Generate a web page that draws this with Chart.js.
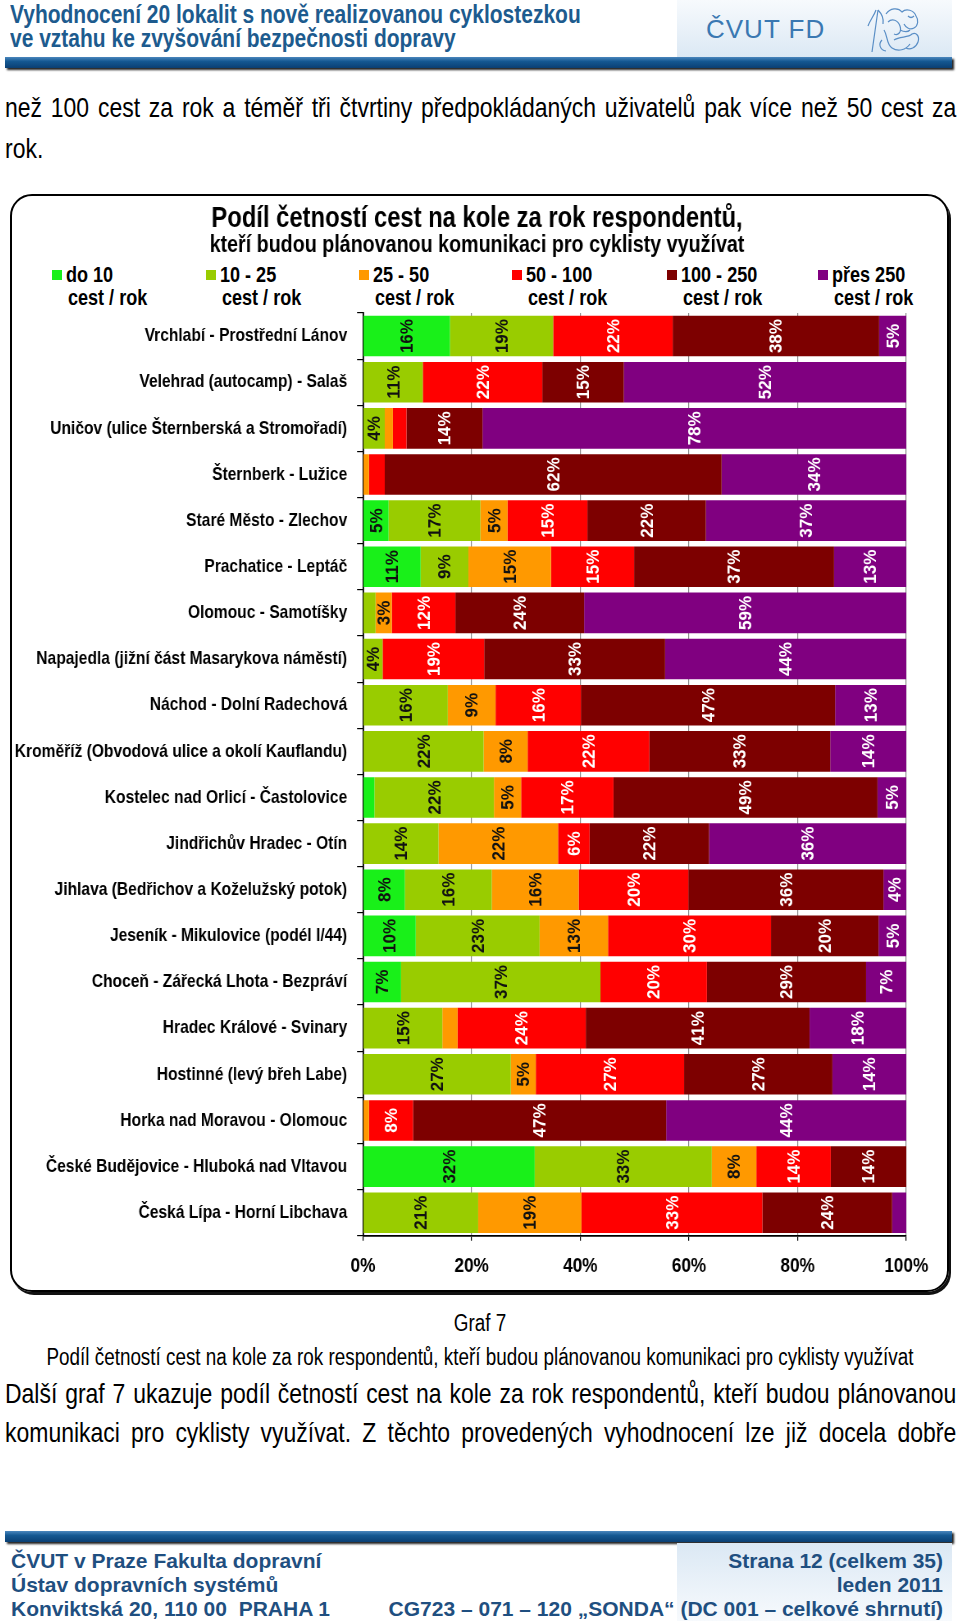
<!DOCTYPE html>
<html lang="cs">
<head>
<meta charset="utf-8">
<title>Graf 7</title>
<script src="https://cdn.jsdelivr.net/npm/chart.js@4.4.0/dist/chart.umd.min.js"></script>
<style>
html,body{margin:0;padding:0;background:#fff;}
body{width:960px;height:1621px;position:relative;overflow:hidden;font-family:"Liberation Sans",Arial,sans-serif;color:#000;}
.abs{position:absolute;}
.sx{transform:scaleX(0.82);transform-origin:0 0;}
.hdr{left:10px;color:#1d5b8e;font-weight:bold;font-size:25.6px;line-height:25px;white-space:nowrap;}
.hbox{left:677px;top:0;width:275px;height:58px;background:linear-gradient(to bottom,#f7fafd,#dbe8f4);}
.hfd{left:706px;top:14px;font-size:26px;letter-spacing:1px;color:#3a78b2;}
.bar{left:5px;width:947px;height:11px;background:linear-gradient(to bottom,#4a86bd 0%,#145892 40%,#0a3f73 100%);box-shadow:2px 2px 2px #222;}
.para{left:5px;width:1160px;font-size:28px;line-height:30px;white-space:nowrap;text-align:justify;text-align-last:justify;}
.cap{left:-120px;width:1200px;text-align:center;font-size:23px;line-height:24px;white-space:nowrap;transform:scaleX(0.82);transform-origin:600px 0;}
.box{left:10px;top:194px;width:935px;height:1094px;border:2px solid #000;border-radius:22px;box-shadow:2px 3px 0 #111;}
.sw{width:10px;height:10px;}
.leg{font-weight:bold;font-size:22px;line-height:23px;white-space:nowrap;}
.fbox{left:677px;top:1543px;width:275px;height:78px;background:linear-gradient(to bottom,#dbe8f4,#f7fafd);}
.ft{font-weight:bold;font-size:21px;line-height:24px;color:#1f4f80;white-space:nowrap;}
#wrap{left:10px;top:194px;width:1145px;height:1098px;}
#logo{left:864px;top:4px;}
</style>
</head>
<body>
<div class="abs hbox"></div>
<div class="abs hdr sx" style="top:2px">Vyhodnocení 20 lokalit s nově realizovanou cyklostezkou</div>
<div class="abs hdr sx" style="top:26px">ve vztahu ke zvyšování bezpečnosti dopravy</div>
<div class="abs hfd">ČVUT FD</div>
<svg id="logo" class="abs" width="60" height="50" viewBox="0 0 60 50" fill="none" stroke="#5b8fc6" stroke-width="1.2">
  <path d="M8 48 L14 6 M12 6 C10 12 6 16 4 22 M14 6 C18 10 20 14 19 20"/>
  <path d="M22 10 C26 4 34 3 38 8 C42 4 50 6 52 12 C55 16 54 22 50 24 C46 26 42 24 40 20"/>
  <path d="M24 18 C28 14 34 16 36 22 C38 28 34 32 30 30 M20 26 C24 32 22 40 28 44 C34 48 42 46 46 40"/>
  <path d="M30 36 C36 32 44 34 48 30 C52 28 56 32 54 38 C52 44 46 46 42 44 M18 36 C14 40 16 46 22 47"/>
  <path d="M44 12 C46 14 48 14 50 12 M36 26 C40 28 44 28 46 26"/>
</svg>
<div class="abs bar" style="top:57px"></div>

<div class="abs para sx" style="top:93px">než 100 cest za rok a téměř tři čtvrtiny předpokládaných uživatelů pak více než 50 cest za</div>
<div class="abs para sx" style="top:134px;text-align-last:left">rok.</div>

<div class="abs box"></div>
<div id="legend"></div>
<div id="wrap" class="abs sx"><canvas id="chart" width="1145" height="1098"></canvas></div>

<div class="abs cap" style="top:1311px">Graf 7</div>
<div class="abs cap" style="top:1345px">Podíl četností cest na kole za rok respondentů, kteří budou plánovanou komunikaci pro cyklisty využívat</div>
<div class="abs para sx" style="top:1379px">Další graf 7 ukazuje podíl četností cest na kole za rok respondentů, kteří budou plánovanou</div>
<div class="abs para sx" style="top:1418px">komunikaci pro cyklisty využívat. Z těchto provedených vyhodnocení lze již docela dobře</div>

<div class="abs bar" style="top:1531px"></div>
<div class="abs fbox"></div>
<div class="abs ft" style="left:11px;top:1549px">ČVUT v Praze Fakulta dopravní</div>
<div class="abs ft" style="left:11px;top:1573px">Ústav dopravních systémů</div>
<div class="abs ft" style="left:11px;top:1597px">Konviktská 20, 110 00&nbsp; PRAHA 1</div>
<div class="abs ft" style="right:17px;top:1549px;text-align:right">Strana 12 (celkem 35)</div>
<div class="abs ft" style="right:17px;top:1573px;text-align:right">leden 2011</div>
<div class="abs ft" style="right:17px;top:1597px;text-align:right">CG723 – 071 – 120 „SONDA“ (DC 001 – celkové shrnutí)</div>

<script>
const FONT = '"Liberation Sans",Arial,sans-serif';

const chartTitle = "Podíl četností cest na kole za rok respondentů,";
const chartSubtitle = "kteří budou plánovanou komunikaci pro cyklisty využívat";

const categories = [
  "Vrchlabí - Prostřední Lánov",
  "Velehrad (autocamp) - Salaš",
  "Uničov (ulice Šternberská a Stromořadí)",
  "Šternberk - Lužice",
  "Staré Město - Zlechov",
  "Prachatice - Leptáč",
  "Olomouc - Samotíšky",
  "Napajedla (jižní část Masarykova náměstí)",
  "Náchod - Dolní Radechová",
  "Kroměříž (Obvodová ulice a okolí Kauflandu)",
  "Kostelec nad Orlicí - Častolovice",
  "Jindřichův Hradec - Otín",
  "Jihlava (Bedřichov a Koželužský potok)",
  "Jeseník - Mikulovice (podél I/44)",
  "Choceň - Zářecká Lhota - Bezpráví",
  "Hradec Králové - Svinary",
  "Hostinné (levý břeh Labe)",
  "Horka nad Moravou - Olomouc",
  "České Budějovice - Hluboká nad Vltavou",
  "Česká Lípa - Horní Libchava"
];

const seriesNames = ["do 10", "10 - 25", "25 - 50", "50 - 100", "100 - 250", "přes 250"];
const seriesUnit = "cest / rok";
const seriesColors = ["#19f019", "#99cc00", "#ff9900", "#ff0000", "#7d0000", "#800080"];
const labelColors = ["#111111", "#111111", "#111111", "#ffffff", "#ffffff", "#ffffff"];

const do10     = [16, 0, 0, 0, 4.7, 10.6, 0, 0, 0, 0, 2.1, 0, 7.7, 9.7, 7, 0, 0, 0, 31.6, 0];
const r10_25   = [19, 11, 4, 0, 16.9, 8.8, 2.3, 3.6, 15.6, 22.2, 22, 13.9, 16, 22.8, 36.7, 14.6, 27.2, 0, 32.6, 21.2];
const r25_50   = [0, 0, 1.5, 1.1, 5, 15.2, 3, 0, 8.8, 8.1, 5, 22, 16, 12.6, 0, 2.8, 4.6, 1.1, 8.2, 19];
const r50_100  = [22, 22, 2.5, 2.9, 14.7, 15.3, 11.7, 18.7, 15.7, 22.4, 17, 5.8, 20.2, 30, 19.6, 23.6, 27.3, 8.1, 13.7, 33.3];
const r100_250 = [38, 15, 14, 62, 21.8, 36.8, 23.7, 33.3, 46.8, 33.3, 48.6, 22, 35.9, 19.8, 29.3, 41.2, 27.3, 46.6, 13.9, 23.9];
const over250  = [5, 52, 78, 34, 36.9, 13.3, 59.3, 44.4, 13.1, 14, 5.3, 36.3, 4.2, 5.1, 7.4, 17.8, 13.6, 44.2, 0, 2.6];

const seriesValues = [do10, r10_25, r25_50, r50_100, r100_250, over250];
const xTicks = [0, 20, 40, 60, 80, 100];
const labelMin = 3;

// HTML legend built from the series names
const legendX = [52, 206, 359, 512, 667, 818];
const legendEl = document.getElementById('legend');
seriesNames.forEach((n, i) => {
  const sw = document.createElement('div');
  sw.className = 'abs sw';
  sw.style.left = legendX[i] + 'px';
  sw.style.top = '270px';
  sw.style.background = seriesColors[i];
  legendEl.appendChild(sw);
  const t1 = document.createElement('div');
  t1.className = 'abs leg sx';
  t1.style.left = (legendX[i] + 14) + 'px';
  t1.style.top = '263px';
  t1.textContent = n;
  legendEl.appendChild(t1);
  const t2 = document.createElement('div');
  t2.className = 'abs leg sx';
  t2.style.left = (legendX[i] + 16) + 'px';
  t2.style.top = '286px';
  t2.textContent = seriesUnit;
  legendEl.appendChild(t2);
});

// center the title and subtitle over the whole framed box
const centerTitles = {
  id: 'centerTitles',
  afterLayout(chart) {
    chart.boxes.forEach(b => {
      if (b.options && (b.options.text === chartTitle || b.options.text === chartSubtitle)) {
        b.left = 0;
        b.right = chart.width - 6;
        b.width = b.right - b.left;
      }
    });
  }
};

const barLabels = {
  id: 'barLabels',
  afterDatasetsDraw(chart) {
    const ctx = chart.ctx;
    chart.data.datasets.forEach((ds, di) => {
      const meta = chart.getDatasetMeta(di);
      meta.data.forEach((bar, i) => {
        const v = ds.data[i];
        if (!(v >= labelMin)) return;
        const p = bar.getProps(['x', 'y', 'base'], true);
        ctx.save();
        ctx.translate((p.x + p.base) / 2, p.y);
        ctx.scale(1.3, 1);
        ctx.rotate(-Math.PI / 2);
        ctx.font = 'bold 17px ' + FONT;
        ctx.fillStyle = labelColors[di];
        ctx.textAlign = 'center';
        ctx.textBaseline = 'middle';
        ctx.fillText(Math.round(v) + '%', 0, 1);
        ctx.restore();
      });
    });
  }
};

new Chart(document.getElementById('chart'), {
  type: 'bar',
  data: {
    labels: categories,
    datasets: seriesNames.map((n, i) => ({
      label: n + ' ' + seriesUnit,
      data: seriesValues[i],
      backgroundColor: seriesColors[i],
      borderWidth: 0,
      categoryPercentage: 0.88,
      barPercentage: 1
    }))
  },
  options: {
    indexAxis: 'y',
    responsive: false,
    animation: false,
    events: [],
    layout: { padding: { left: 0, right: 52, top: 0, bottom: 0 } },
    plugins: {
      legend: { display: false },
      tooltip: { enabled: false },
      title: { display: true, text: chartTitle, color: '#000',
        font: { family: FONT, size: 29, weight: 'bold', lineHeight: 1.0 },
        padding: { top: 10.5, bottom: 0 } },
      subtitle: { display: true, text: chartSubtitle, color: '#000',
        font: { family: FONT, size: 24, weight: 'bold', lineHeight: 1.0 },
        padding: { top: 0, bottom: 55.5 } }
    },
    scales: {
      x: {
        stacked: true, min: 0, max: 100,
        afterBuildTicks(s) { s.ticks = xTicks.map(v => ({ value: v })); },
        ticks: { callback: v => v + '%', color: '#000', padding: 13,
          font: { family: FONT, size: 21, weight: 'bold', lineHeight: 1.2 } },
        grid: { color: '#8a8a8a', lineWidth: 1.2, tickLength: 5, tickColor: '#000' },
        border: { color: '#000', width: 1.8 }
      },
      y: {
        stacked: true,
        afterFit(s) { s.width = 430.5; },
        ticks: { color: '#000', padding: 12, autoSkip: false,
          font: { family: FONT, size: 19, weight: 'bold', lineHeight: 1.2 } },
        grid: { drawOnChartArea: false, tickLength: 7.3, tickColor: '#000', offset: true, lineWidth: 1.2 },
        border: { color: '#000', width: 1.8 }
      }
    }
  },
  plugins: [centerTitles, barLabels]
});
</script>
</body>
</html>
